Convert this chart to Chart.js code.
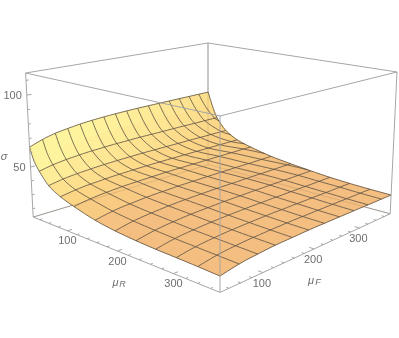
<!DOCTYPE html>
<html>
<head>
<meta charset="utf-8">
<style>
  html, body { margin: 0; background: #fff; }
  canvas { display: block; }
</style>
<script src="https://cdn.jsdelivr.net/npm/chart.js@4"></script>
</head>
<body>
<canvas id="surface" width="399" height="338"></canvas>
<script>
// columns of the surface table
const muF = [25, 46.875, 68.75, 90.625, 112.5, 134.375, 156.25, 178.125, 200, 221.875, 243.75, 265.625, 287.5, 309.375, 331.25, 353.125, 375];
// rows of the surface table
const muR = [25, 33.75, 44.25, 63.5, 88, 116, 158, 196.5, 235, 270, 305, 340, 375];
// one row per muR, one column per muF
const sigma = [
  [64, 67.3, 69.6, 71, 72.2, 73, 73.6, 74, 74.3, 74.5, 74.6, 74.7, 74.8, 74.85, 74.9, 75, 75],
  [55, 58, 60.1, 61.4, 62.5, 63.2, 63.7, 64.1, 64.4, 64.5, 64.6, 64.7, 64.8, 64.85, 64.9, 65, 65],
  [49, 51, 52.3, 53.2, 53.9, 54.3, 54.7, 54.9, 55.1, 55.2, 55.2, 55.3, 55.4, 55.4, 55.4, 55.5, 55.5],
  [41, 42.7, 43.8, 44.5, 45.1, 45.5, 45.8, 46, 46.2, 46.2, 46.3, 46.3, 46.4, 46.4, 46.4, 46.5, 46.5],
  [36, 37.5, 38.6, 39.2, 39.8, 40.1, 40.4, 40.6, 40.7, 40.8, 40.8, 40.9, 40.9, 40.9, 41, 41, 41],
  [32.5, 34.1, 35.2, 35.9, 36.5, 36.8, 37.1, 37.3, 37.5, 37.5, 37.6, 37.6, 37.7, 37.7, 37.7, 37.8, 37.8],
  [28.3, 30.1, 31.4, 32.1, 32.8, 33.2, 33.5, 33.8, 33.9, 34, 34.1, 34.1, 34.2, 34.2, 34.2, 34.3, 34.3],
  [26, 27.9, 29.2, 30, 30.7, 31.2, 31.5, 31.7, 31.9, 32, 32, 32.1, 32.2, 32.2, 32.2, 32.3, 32.3],
  [24.6, 26.4, 27.7, 28.5, 29.2, 29.6, 29.9, 30.2, 30.3, 30.4, 30.5, 30.5, 30.6, 30.6, 30.6, 30.7, 30.7],
  [23.8, 25.5, 26.7, 27.4, 28, 28.4, 28.7, 28.9, 29.1, 29.1, 29.2, 29.2, 29.3, 29.3, 29.3, 29.4, 29.4],
  [23.3, 24.9, 26, 26.7, 27.3, 27.6, 27.9, 28.1, 28.3, 28.3, 28.4, 28.4, 28.5, 28.5, 28.5, 28.6, 28.6],
  [22.7, 24.3, 25.5, 26.2, 26.8, 27.1, 27.4, 27.6, 27.8, 27.8, 27.9, 27.9, 28, 28, 28, 28.1, 28.1],
  [22, 23.7, 25, 25.7, 26.4, 26.8, 27, 27.3, 27.5, 27.5, 27.6, 27.6, 27.7, 27.7, 27.7, 27.8, 27.8]
];

// table rows that carry a mesh line (row 1 is only there to keep the wall smooth)
const meshRows = [0, 2, 3, 4, 5, 6, 7, 8, 9, 10, 11, 12];
// the mesh lines running towards the front spread out as they leave the back edge
const meshF = [46.875, 68.75, 90.625, 112.5, 134.375, 156.25, 178.125, 200, 221.875, 243.75, 265.625, 287.5, 309.375, 331.25, 353.125];
const meshSpread = [1, 1.02, 1.05, 1.11, 1.18, 1.27, 1.36, 1.42, 1.46, 1.48, 1.49, 1.49, 1.49];

const muTicks = [100, 200, 300];
const muMinorTicks = [40, 60, 80, 120, 140, 160, 180, 220, 240, 260, 280, 320, 340, 360];
const sigmaTicks = [50, 100];
const sigmaMinorTicks = [20, 30, 40, 60, 70, 80, 90, 110];

const muMin = 25, muMax = 375;
const sigmaMin = 14, sigmaMax = 115;

// perspective camera fitted to the corners of the box
function project(f, r, s) {
  const u = (f - muMin) / (muMax - muMin);
  const v = (r - muMin) / (muMax - muMin);
  const t = 1 - (s - sigmaMin) / (sigmaMax - sigmaMin);
  const w = 1 + 0.2019 * u - 0.1851 * v + 0.0408 * t;
  // front bottom corner sits a little lower than the fit gives
  const drop = 2.8 * v * (1 - u) * Math.max(0, t - 0.92) / 0.08;
  return {
    x: (25.6 + 224.4 * u + 153.7 * v + 8.97 * t) / w,
    y: (73 - 21.3 * u + 21.5 * v + 152.9 * t + drop) / w
  };
}

// sigma along one table row at any muF
function sigmaOnRow(i, f) {
  const step = muF[1] - muF[0];
  const j = Math.min(muF.length - 2, Math.floor((f - muMin) / step));
  const k = (f - muF[j]) / step;
  return sigma[i][j] + (sigma[i][j + 1] - sigma[i][j]) * k;
}

function mix(a, b, k) {
  return a.map((c, i) => c + (b[i] - c) * k);
}

// yellow on the steep wall, orange on the flat part
function cellColor(i, j) {
  const u = (j + 0.5) / (muF.length - 1);
  const v = ((muR[i] + muR[i + 1]) / 2 - muMin) / (muMax - muMin);
  const wall = Math.max(0, 1 - v / 0.6);
  const k = Math.min(1, wall * wall * (1 - 0.45 * u) * 1.2);
  const c = k < 0.45
    ? mix([243, 190, 128], [252, 212, 132], k / 0.45)
    : mix([252, 212, 132], [255, 244, 158], (k - 0.45) / 0.55);
  return `rgb(${c.map(Math.round).join(',')})`;
}

const boxColor = '#a6a6a6';
const hiddenColor = 'rgba(140,110,80,0.22)';
const meshColor = 'rgba(90,78,66,0.78)';

function lineSet(points, color, width, tension) {
  return { data: points, borderColor: color, borderWidth: width, tension: tension || 0, showLine: true, pointRadius: 0, fill: false, clip: false };
}

// list is in painting order, back to front
const layers = [];

const fLo = muMin, fHi = muMax, sLo = sigmaMin, sHi = sigmaMax;

const backEdges = [
  [[fHi, fLo, sLo], [fHi, fLo, sHi]],
  [[fLo, fLo, sLo], [fHi, fLo, sLo]],
  [[fHi, fLo, sLo], [fHi, fHi, sLo]]
];
const backTopEdges = [
  [[fLo, fLo, sHi], [fHi, fLo, sHi]],
  [[fHi, fLo, sHi], [fHi, fHi, sHi]]
];
backEdges.concat(backTopEdges).forEach(e => layers.push(lineSet(e.map(p => project(...p)), boxColor, 1)));

// cells, far corner first
for (let i = 0; i < muR.length - 1; i++) {
  for (let j = muF.length - 2; j >= 0; j--) {
    const pts = [
      project(muF[j], muR[i], sigma[i][j]),
      project(muF[j + 1], muR[i], sigma[i][j + 1]),
      project(muF[j + 1], muR[i + 1], sigma[i + 1][j + 1]),
      project(muF[j], muR[i + 1], sigma[i + 1][j])
    ];
    pts.push(pts[0]);
    const col = cellColor(i, j);
    layers.push({ data: pts, showLine: true, pointRadius: 0, borderWidth: 0.6, borderColor: col, backgroundColor: col, fill: 'shape', clip: false });
  }
}

// back edges show faintly through the surface
backEdges.forEach(e => layers.push(lineSet(e.map(p => project(...p)), hiddenColor, 1)));

// mesh rows
meshRows.forEach(i => {
  layers.push(lineSet(muF.map((f, j) => project(f, muR[i], sigma[i][j])), meshColor, 1, 0.3));
});
// outer columns of the surface
[0, muF.length - 1].forEach(j => {
  layers.push(lineSet(muR.map((r, i) => project(muF[j], r, sigma[i][j])), meshColor, 1, 0.3));
});
// mesh lines towards the front, stopped at the right hand edge of the surface
meshF.forEach(f0 => {
  const pts = [];
  for (let i = 0; i < muR.length; i++) {
    const f = muMin + (f0 - muMin) * meshSpread[i];
    if (f > muMax) {
      const before = muMin + (f0 - muMin) * meshSpread[i - 1];
      const k = (muMax - before) / (f - before);
      const r = muR[i - 1] + (muR[i] - muR[i - 1]) * k;
      const s = sigma[i - 1][16] + (sigma[i][16] - sigma[i - 1][16]) * k;
      pts.push(project(muMax, r, s));
      break;
    }
    pts.push(project(f, muR[i], sigmaOnRow(i, f)));
  }
  layers.push(lineSet(pts, meshColor, 1, 0.3));
});

// edges in front of the surface
[
  [[fLo, fHi, sLo], [fLo, fHi, sHi]],
  [[fLo, fLo, sLo], [fLo, fLo, sHi]],
  [[fHi, fHi, sLo], [fHi, fHi, sHi]],
  [[fLo, fLo, sHi], [fLo, fHi, sHi]],
  [[fLo, fHi, sHi], [fHi, fHi, sHi]],
  [[fLo, fLo, sLo], [fLo, fHi, sLo]],
  [[fLo, fHi, sLo], [fHi, fHi, sLo]]
].forEach(e => layers.push(lineSet(e.map(p => project(...p)), boxColor, 1)));

// tick marks, broken into pieces with nulls
const tickPts = [];
const addTick = (a, b) => tickPts.push(a, b, { x: null, y: null });
const span = muMax - muMin;
muTicks.forEach(m => {
  addTick(project(fLo, m, sLo), project(fLo + span * 0.022, m, sLo));
  addTick(project(m, fHi, sLo), project(m, fHi - span * 0.022, sLo));
});
muMinorTicks.forEach(m => {
  addTick(project(fLo, m, sLo), project(fLo + span * 0.012, m, sLo));
  addTick(project(m, fHi, sLo), project(m, fHi - span * 0.012, sLo));
});
sigmaTicks.forEach(s => addTick(project(fLo, fLo, s), project(fLo + span * 0.022, fLo, s)));
sigmaMinorTicks.forEach(s => addTick(project(fLo, fLo, s), project(fLo + span * 0.012, fLo, s)));
layers.push(lineSet(tickPts, boxColor, 1));

const textColor = '#6e6e6e';
const tickFont = '11px "Liberation Sans"';

function put(ctx, str, x, y, font, align) {
  ctx.font = font;
  ctx.textAlign = align || 'center';
  ctx.fillText(str, x, y);
}

const axisText = {
  id: 'axisText',
  afterDraw(chart) {
    const { ctx, scales } = chart;
    const px = p => ({ x: scales.x.getPixelForValue(p.x), y: scales.y.getPixelForValue(p.y) });
    ctx.save();
    ctx.fillStyle = textColor;
    ctx.textBaseline = 'middle';
    muTicks.forEach(m => {
      let p = px(project(fLo, m, sLo));
      put(ctx, String(m), p.x, p.y + 10.5, tickFont);
      p = px(project(m, fHi, sLo));
      put(ctx, String(m), p.x - 1, p.y + 11.3, tickFont);
    });
    sigmaTicks.forEach(s => {
      const p = px(project(fLo, fLo, s));
      put(ctx, String(s), p.x - 5, p.y + 1, tickFont, 'right');
    });
    put(ctx, 'σ', 4, 157, 'italic 11px "Liberation Sans"');
    const sub = 'italic 9px "Liberation Sans"';
    const main = 'italic 11px "Liberation Sans"';
    put(ctx, 'μ', 115.5, 283, main);
    put(ctx, 'R', 122.5, 284, sub);
    put(ctx, 'μ', 311, 281, main);
    put(ctx, 'F', 318, 282, sub);
    ctx.restore();
  }
};

new Chart(document.getElementById('surface'), {
  type: 'scatter',
  data: { datasets: layers.slice().reverse() },
  options: {
    responsive: false,
    animation: false,
    events: [],
    layout: { padding: 0 },
    plugins: { legend: { display: false }, tooltip: { enabled: false } },
    scales: {
      x: { type: 'linear', min: 0, max: 399, display: false },
      y: { type: 'linear', min: 0, max: 338, reverse: true, display: false }
    }
  },
  plugins: [axisText]
});
</script>
</body>
</html>
